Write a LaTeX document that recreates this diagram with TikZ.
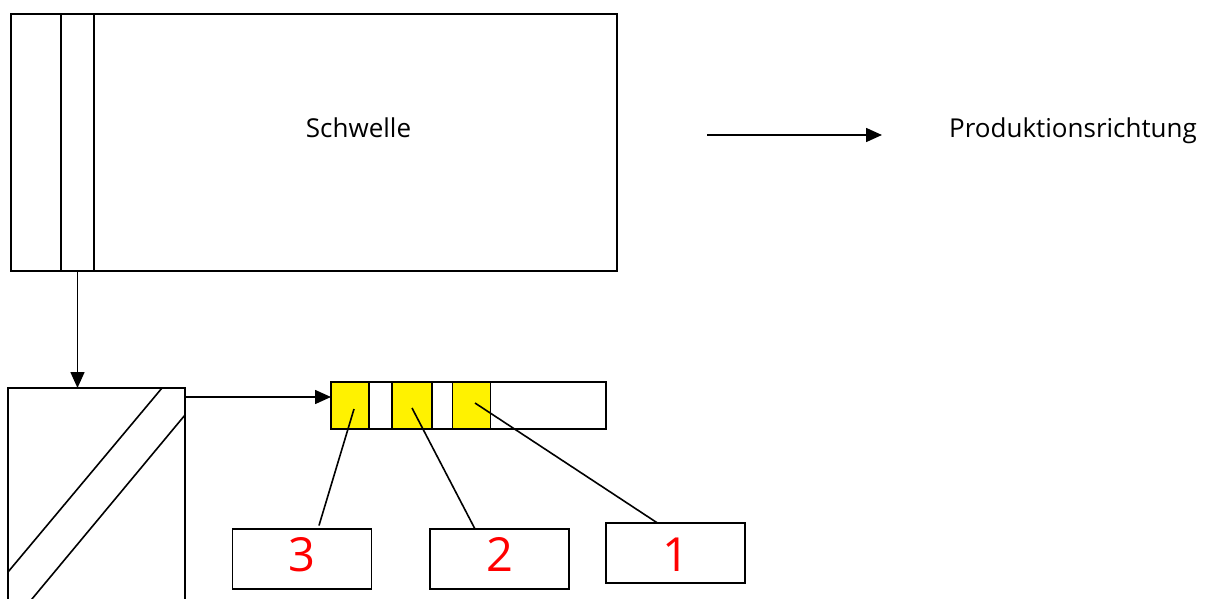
\documentclass[tikz,border=0pt]{standalone}
\usepackage{fontspec}
\setmainfont{Open Sans}
\usetikzlibrary{arrows.meta}

\tikzset{
  box/.style={draw, line width=1.9pt, rectangle, inner sep=0pt, outer sep=0pt},
  cell/.style={box, fill=yellow},
  lead/.style={line width=1.6pt},
  arr/.style={line width=1.6pt, -{Triangle[length=16pt,width=14pt]}},
  num/.style={text=red, font=\fontsize{47}{47}\selectfont, inner sep=0pt, anchor=base},
  lbl/.style={font=\fontsize{26}{26}\selectfont, inner sep=0pt},
}

\begin{document}
\begin{tikzpicture}[x=1pt, y=-1pt]
\useasboundingbox (0,0) rectangle (1209,599);

% sleeper seen from above, with the marked band
\node[box, minimum width=606pt, minimum height=257pt] (schwelle) at (314,142.5) {};
\node[box, minimum width=33pt, minimum height=257pt] (band) at (77.5,142.5) {};
\node[lbl, anchor=base] (schwtext) at (358.5,138) {Schwelle};

% direction of production
\coordinate (pstart) at (707,135);
\coordinate (pend) at (882,135);
\draw[arr] (pstart) -- (pend);
\node[lbl, anchor=base west] (prod) at (949,138) {Produktionsrichtung};

% cross-section of the band
\node[box, minimum width=177pt, minimum height=232pt] (schnitt) at (96.5,504) {};
\draw[lead] (162,388) -- (8,572);
\draw[lead] (185,415) -- (14.5,620);
\draw[arr] (band.south) -- (band.south |- schnitt.north);

% strip with the three measuring fields
\node[box, minimum width=275pt, minimum height=47pt] (streifen) at (468.5,405.5) {};
\node[cell, minimum width=38pt, minimum height=47pt] (c3) at (350,405.5) {};
\node[cell, minimum width=40pt, minimum height=47pt] (c2) at (412,405.5) {};
\node[cell, minimum width=38pt, minimum height=47pt] (c1) at (471.5,405.5) {};

\coordinate (aus) at (185,397);
\draw[arr] (aus) -- (aus -| streifen.west);

% numbered labels
\node[box, minimum width=139pt, minimum height=60pt] (b3) at (302,559) {};
\node[box, minimum width=139pt, minimum height=60pt] (b2) at (499.5,559) {};
\node[box, minimum width=139pt, minimum height=60pt] (b1) at (675.5,553) {};
\coordinate (numline) at (0,571);
\node[num] (n3) at (b3.center |- numline) {3};
\node[num] (n2) at (b2.center |- numline) {2};
\node[num] (n1) at (b1.center |- numline) {1};

% leader lines from the fields to the labels
\coordinate (p3) at (354,409);
\coordinate (q3) at (319,525.5);
\coordinate (p2) at (412,408);
\coordinate (q2) at (475,529);
\coordinate (p1) at (475,403);
\coordinate (q1) at (657,522.7);
\draw[lead] (p3) -- (q3);
\draw[lead] (p2) -- (q2);
\draw[lead] (p1) -- (q1);
\end{tikzpicture}
\end{document}
